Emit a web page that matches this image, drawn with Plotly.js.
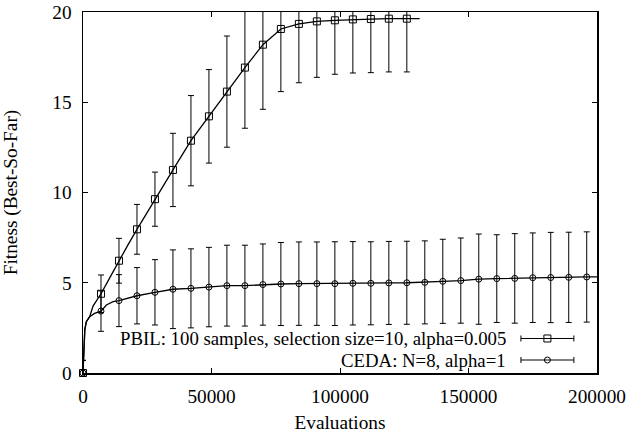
<!DOCTYPE html>
<html>
<head>
<meta charset="utf-8">
<script src="https://cdn.plot.ly/plotly-3.0.1.min.js"></script>
<style>html,body{margin:0;padding:0;background:#fff;}#chart{width:629px;height:437px;}</style>
</head>
<body>
<div id="chart"></div>
<script>
// ---- data ----
const seriesNames = ["PBIL: 100 samples, selection size=10, alpha=0.005", "CEDA: N=8, alpha=1"];

const pbilEvals = [0,7000,14000,21000,28000,35000,42000,49000,56000,63000,70000,77000,84000,91000,98000,105000,112000,119000,126000];
const pbilMean  = [0,4.39,6.22,7.96,9.63,11.25,12.87,14.22,15.59,16.92,18.19,19.06,19.34,19.48,19.54,19.59,19.61,19.63,19.63];
const pbilStd   = [0.7,1.04,1.24,1.38,1.50,2.03,2.50,2.59,3.08,3.36,3.58,3.47,3.26,3.10,2.99,2.97,2.97,2.95,2.95];

const cedaEvals = [0,7000,14000,21000,28000,35000,42000,49000,56000,63000,70000,77000,84000,91000,98000,105000,112000,119000,126000,133000,140000,147000,154000,161000,168000,175000,182000,189000,196000];
const cedaMean  = [0,3.43,4.01,4.28,4.47,4.64,4.69,4.76,4.84,4.84,4.90,4.93,4.95,4.95,4.95,4.97,4.97,4.99,5.00,5.02,5.08,5.12,5.20,5.23,5.24,5.28,5.29,5.30,5.32];
const cedaStd   = [0.7,1.12,1.44,1.56,1.81,2.18,2.19,2.20,2.24,2.24,2.25,2.30,2.31,2.31,2.32,2.31,2.30,2.30,2.30,2.30,2.33,2.36,2.50,2.43,2.48,2.48,2.50,2.50,2.50];

// dense best-so-far curves (markers drawn every 7000 evaluations)
const pbilCurveX = [0,700,1300,2600,3900,7000,10500,14000,17500,21000,24500,28000,35000,42000,49000,56000,63000,70000,77000,84000,91000,98000,105000,112000,119000,126000,131000];
const pbilCurveY = [0,2.40,2.84,3.12,3.71,4.39,5.30,6.22,7.10,7.96,8.80,9.63,11.25,12.87,14.22,15.59,16.92,18.19,19.06,19.34,19.48,19.54,19.59,19.61,19.63,19.63,19.63];
const cedaCurveX = [0,700,1300,2600,4500,7000,9100,11700,14000,21000,28000,35000,42000,49000,56000,63000,70000,77000,84000,91000,98000,105000,112000,119000,126000,133000,140000,147000,154000,161000,168000,175000,182000,189000,196000,200000];
const cedaCurveY = [0,2.40,2.84,3.12,3.30,3.43,3.77,3.95,4.01,4.28,4.47,4.64,4.69,4.76,4.84,4.84,4.90,4.93,4.95,4.95,4.95,4.97,4.97,4.99,5.00,5.02,5.08,5.12,5.20,5.23,5.24,5.28,5.29,5.30,5.32,5.33];

const xTicks = [0,50000,100000,150000,200000];
const yTicks = [0,5,10,15,20];

// ---- styling ----
const FONT = "'Liberation Serif', 'DejaVu Serif', serif";
const FS = 19.3;
const LFS = 18.8;

function lineTrace(x, y) {
  return {x: x, y: y, type: "scatter", mode: "lines", line: {color: "#000", width: 1.3}, hoverinfo: "skip", showlegend: false};
}
function barTrace(x, y, e) {
  return {x: x, y: y, type: "scatter", mode: "markers", marker: {size: 1, opacity: 0},
    error_y: {type: "data", array: e, visible: true, color: "#000", thickness: 1, width: 3},
    hoverinfo: "skip", showlegend: false};
}
function markerTrace(x, y, sym, size) {
  return {x: x, y: y, type: "scatter", mode: "markers", cliponaxis: false,
    marker: {symbol: sym, size: size, color: "#000", line: {color: "#000", width: 1}},
    hoverinfo: "skip", showlegend: false};
}

const data = [
  lineTrace(pbilCurveX, pbilCurveY),
  lineTrace(cedaCurveX, cedaCurveY),
  barTrace(pbilEvals, pbilMean, pbilStd),
  barTrace(cedaEvals, cedaMean, cedaStd),
  markerTrace(pbilEvals, pbilMean, "square-open", 7),
  markerTrace(cedaEvals, cedaMean, "circle-open", 6)
];

// legend built gnuplot-style: text on the left, error-bar sample on the right
const legRows = [0.0956, 0.036];
const sx0 = 0.852, sx1 = 0.955, sxm = 0.9035, textX = 0.8274;
const shapes = [];
const annotations = [];
legRows.forEach(function (ry, i) {
  shapes.push({type: "line", xref: "paper", yref: "paper", x0: sx0, x1: sx1, y0: ry, y1: ry, line: {color: "#000", width: 1}});
  [sx0, sx1].forEach(function (cx) {
    shapes.push({type: "line", xref: "paper", yref: "paper", xsizemode: "scaled", ysizemode: "pixel", yanchor: ry,
      x0: cx, x1: cx, y0: -3, y1: 3, line: {color: "#000", width: 1}});
  });
  shapes.push({type: i === 0 ? "rect" : "circle", xref: "paper", yref: "paper", xsizemode: "pixel", ysizemode: "pixel",
    xanchor: sxm, yanchor: ry, x0: i === 0 ? -3.5 : -3, x1: i === 0 ? 3.5 : 3, y0: i === 0 ? -3.5 : -3, y1: i === 0 ? 3.5 : 3,
    line: {color: "#000", width: 1}});
  annotations.push({xref: "paper", yref: "paper", x: textX, y: ry, xanchor: "right", yanchor: "middle",
    text: seriesNames[i], showarrow: false, font: {family: FONT, size: LFS, color: "#000"}});
});

const layout = {
  width: 629, height: 437,
  margin: {l: 83, r: 32, t: 12, b: 64, pad: 0},
  paper_bgcolor: "#fff", plot_bgcolor: "#fff",
  font: {family: FONT, size: FS, color: "#000"},
  showlegend: false,
  xaxis: {
    range: [0, 200000], tickvals: xTicks, ticktext: xTicks.map(String),
    ticks: "inside", ticklen: 5, tickwidth: 1, tickcolor: "#000", ticklabelstandoff: 5,
    tickfont: {family: FONT, size: FS, color: "#000"},
    showline: true, linecolor: "#000", linewidth: 1.5, mirror: "allticks",
    showgrid: false, zeroline: false,
    title: {text: "Evaluations", font: {family: FONT, size: FS, color: "#000"}, standoff: 10}
  },
  yaxis: {
    range: [0, 20], tickvals: yTicks, ticktext: yTicks.map(String),
    ticks: "inside", ticklen: 5, tickwidth: 1, tickcolor: "#000", ticklabelstandoff: 6,
    tickfont: {family: FONT, size: FS, color: "#000"},
    showline: true, linecolor: "#000", linewidth: 1.5, mirror: "allticks",
    showgrid: false, zeroline: false,
    title: {text: "Fitness (Best-So-Far)", font: {family: FONT, size: FS, color: "#000"}, standoff: 29}
  },
  shapes: shapes,
  annotations: annotations
};

Plotly.newPlot("chart", data, layout, {staticPlot: true, displayModeBar: false});
</script>
</body>
</html>
